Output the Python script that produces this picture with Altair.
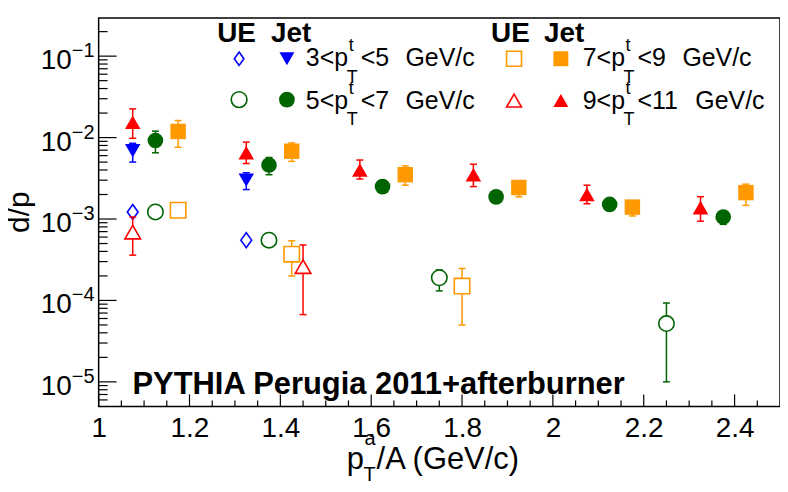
import altair as alt
import pandas as pd

# ---------------- data ----------------
ue35_x = [1.075, 1.325]
ue35_y = [0.00122, 0.00055]
ue35_lo = [0.00113, 0.00051]
ue35_hi = [0.00131, 0.00059]

jet35_x = [1.075, 1.325]
jet35_y = [0.0069, 0.0030]
jet35_lo = [0.0050, 0.0023]
jet35_hi = [0.0085, 0.0037]

ue57_x = [1.125, 1.375, 1.75, 2.25]
ue57_y = [0.00122, 0.00055, 0.00019, 0.000052]
ue57_lo = [0.00112, 0.00050, 0.000131, 0.0000100]
ue57_hi = [0.00132, 0.00060, 0.000237, 0.0000930]

jet57_x = [1.125, 1.375, 1.625, 1.875, 2.125, 2.375]
jet57_y = [0.0092, 0.0046, 0.0025, 0.00187, 0.00151, 0.00106]
jet57_lo = [0.0065, 0.0035, 0.0021, 0.00166, 0.00135, 0.00086]
jet57_hi = [0.0120, 0.0057, 0.0029, 0.0021, 0.0017, 0.00125]

ue79_x = [1.175, 1.425, 1.8]
ue79_y = [0.00128, 0.00037, 0.00015]
ue79_lo = [0.00118, 0.00020, 0.000050]
ue79_hi = [0.00139, 0.00054, 0.000247]

jet79_x = [1.175, 1.425, 1.675, 1.925, 2.175, 2.425]
jet79_y = [0.0119, 0.0068, 0.0035, 0.00244, 0.00140, 0.00211]
jet79_lo = [0.0076, 0.0051, 0.0026, 0.00187, 0.00109, 0.00147]
jet79_hi = [0.0162, 0.0086, 0.0045, 0.0029, 0.0016, 0.00268]

ue911_x = [1.075, 1.45]
ue911_y = [0.00069, 0.00026]
ue911_lo = [0.00036, 0.000067]
ue911_hi = [0.00106, 0.00048]

jet911_x = [1.075, 1.325, 1.575, 1.825, 2.075, 2.325]
jet911_y = [0.0154, 0.0065, 0.0040, 0.0035, 0.0020, 0.00138]
jet911_lo = [0.0098, 0.0048, 0.0031, 0.0025, 0.00154, 0.00094]
jet911_hi = [0.0225, 0.0088, 0.0053, 0.0047, 0.0026, 0.00188]

# axis ticks / labels
x_label_vals = [1, 1.2, 1.4, 1.6, 1.8, 2, 2.2, 2.4]
x_minor_vals = [1.05, 1.1, 1.15, 1.25, 1.3, 1.35, 1.45, 1.5, 1.55, 1.65, 1.7, 1.75,
                1.85, 1.9, 1.95, 2.05, 2.1, 2.15, 2.25, 2.3, 2.35, 2.45]
y_major_vals = [1e-5, 1e-4, 1e-3, 1e-2, 1e-1]
y_major_exp = ["\u22125", "\u22124", "\u22123", "\u22122", "\u22121"]
y_minor_vals = [m * 10.0 ** e for e in range(-6, 0) for m in range(2, 10)
                if 5.05e-6 < m * 10.0 ** e < 0.29]

# ---------------- styling ----------------
FONT = "Liberation Sans"
BLUE, GREEN, ORANGE, RED = "#0000ff", "#006400", "#ff9900", "#ff0000"
DIAMOND = "M0,-1L0.72,0L0,1L-0.72,0Z"
CAP = "M-1,0L1,0"

xs = alt.Scale(domain=[1, 2.5], nice=False, zero=False)
ys = alt.Scale(type="log", domain=[5.0e-6, 0.295], nice=False)
xaxis = alt.Axis(values=x_label_vals, format="~g", labelFont=FONT, labelFontSize=28,
                 labelColor="black", labelPadding=8, labelFlush=False, labelOverlap=False,
                 ticks=False, domain=False, grid=False, title=None)
one = pd.DataFrame({"k": [0]})


def X(f):
    return alt.X(f, type="quantitative", scale=xs, axis=xaxis)


def Y(f):
    return alt.Y(f, type="quantitative", scale=ys, axis=None)


def marker(chart, shape, color, filled, size):
    if filled:
        return chart.mark_point(shape=shape, size=size, filled=True, color=color,
                                opacity=1, strokeWidth=0)
    return chart.mark_point(shape=shape, size=size, filled=False, fill="white",
                            fillOpacity=1, stroke=color, strokeWidth=1.6, opacity=1)


def series(x, y, lo, hi, shape, color, filled, size):
    base = alt.Chart(pd.DataFrame({"x": x, "y": y, "lo": lo, "hi": hi}))
    bar = base.mark_rule(color=color, strokeWidth=1.5).encode(x=X("x"), y=Y("lo"), y2="hi:Q")
    cap_lo = base.mark_point(shape=CAP, size=49, filled=False, stroke=color,
                             strokeWidth=1.5, opacity=1).encode(x=X("x"), y=Y("lo"))
    cap_hi = base.mark_point(shape=CAP, size=49, filled=False, stroke=color,
                             strokeWidth=1.5, opacity=1).encode(x=X("x"), y=Y("hi"))
    pts = marker(base, shape, color, filled, size).encode(x=X("x"), y=Y("y"))
    return [bar, cap_lo, cap_hi, pts]


def txt(text, x, y, size, bold=False, align="left", angle=0):
    return alt.Chart(one).mark_text(text=text, font=FONT, fontSize=size,
                                    fontWeight="bold" if bold else "normal",
                                    align=align, baseline="alphabetic", color="black",
                                    angle=angle).encode(x=alt.value(x), y=alt.value(y))


def sym(x, y, shape, color, filled, size):
    return marker(alt.Chart(one), shape, color, filled, size).encode(x=alt.value(x), y=alt.value(y))


layers = []

# axis ticks (drawn inside the frame, ROOT style)
layers.append(alt.Chart(pd.DataFrame({"v": y_major_vals})).mark_rule(color="black", strokeWidth=1.2)
              .encode(y=Y("v"), x=alt.value(0), x2=alt.value(18)))
layers.append(alt.Chart(pd.DataFrame({"v": y_minor_vals})).mark_rule(color="black", strokeWidth=1.2)
              .encode(y=Y("v"), x=alt.value(0), x2=alt.value(9)))
layers.append(alt.Chart(pd.DataFrame({"v": x_label_vals})).mark_rule(color="black", strokeWidth=1.2)
              .encode(x=X("v"), y=alt.value(390), y2=alt.value(378)))
layers.append(alt.Chart(pd.DataFrame({"v": x_minor_vals})).mark_rule(color="black", strokeWidth=1.2)
              .encode(x=X("v"), y=alt.value(390), y2=alt.value(384)))

# y tick labels 10^n
ylab = pd.DataFrame({"v": y_major_vals, "e": y_major_exp})
layers.append(alt.Chart(ylab).mark_text(font=FONT, fontSize=28, align="right", baseline="alphabetic",
                                        dy=13, text="10", color="black")
              .encode(y=Y("v"), x=alt.value(-27)))
layers.append(alt.Chart(ylab).mark_text(font=FONT, fontSize=20, align="left", baseline="alphabetic",
                                        dy=1, color="black")
              .encode(y=Y("v"), x=alt.value(-27), text="e:N"))

# data series
layers += series(ue35_x, ue35_y, ue35_lo, ue35_hi, DIAMOND, BLUE, False, 225)
layers += series(ue57_x, ue57_y, ue57_lo, ue57_hi, "circle", GREEN, False, 240)
layers += series(ue79_x, ue79_y, ue79_lo, ue79_hi, "square", ORANGE, False, 240)
layers += series(ue911_x, ue911_y, ue911_lo, ue911_hi, "triangle-up", RED, False, 246)
layers += series(jet35_x, jet35_y, jet35_lo, jet35_hi, "triangle-down", BLUE, True, 240)
layers += series(jet57_x, jet57_y, jet57_lo, jet57_hi, "circle", GREEN, True, 246)
layers += series(jet79_x, jet79_y, jet79_lo, jet79_hi, "square", ORANGE, True, 240)
layers += series(jet911_x, jet911_y, jet911_lo, jet911_hi, "triangle-up", RED, True, 246)

# legend
layers += [txt("UE", 119, 24, 28, True), txt("Jet", 173, 24, 28, True),
           txt("UE", 394, 24, 28, True), txt("Jet", 447, 24, 28, True)]
layers += [sym(141, 41, DIAMOND, BLUE, False, 180), sym(189, 41, "triangle-down", BLUE, True, 225),
           sym(141, 82, "circle", GREEN, False, 250), sym(189, 82, "circle", GREEN, True, 250),
           sym(417, 41, "square", ORANGE, False, 225), sym(464, 41, "square", ORANGE, True, 225),
           sym(417, 83, "triangle-up", RED, False, 225), sym(464, 83, "triangle-up", RED, True, 225)]


def leg_label(xm, yb, main, rest, unit, xrest, xunit):
    return [txt(main, xm, yb, 25), txt("t", xm + 43, yb - 15, 18), txt("T", xm + 41, yb + 17, 18),
            txt(rest, xrest, yb, 25), txt(unit, xunit, yb, 25)]


layers += leg_label(208, 48, "3<p", "<5", "GeV/c", 263, 308)
layers += leg_label(208, 91, "5<p", "<7", "GeV/c", 263, 308)
layers += leg_label(486, 48, "7<p", "<9", "GeV/c", 541, 586)
layers += leg_label(486, 91, "9<p", "<11", "GeV/c", 541, 599)

# other texts
layers.append(txt("PYTHIA Perugia 2011+afterburner", 34, 378, 31, True))
layers.append(txt("d/p", -70, 195, 30, False, "center", 270))
layers += [txt("p", 249, 453, 31), txt("a", 267, 429, 20), txt("T", 266, 465, 20),
           txt("/A (GeV/c)", 279, 453, 31)]

chart = alt.layer(*layers).properties(
    width=684, height=390,
    padding={"left": 91, "top": 9, "right": 0, "bottom": 80},
    autosize=alt.AutoSizeParams(type="none"),
    background="white",
).configure_view(stroke="black", strokeWidth=1.5)

chart.save("out.html", embed_options={"renderer": "svg", "actions": False})
